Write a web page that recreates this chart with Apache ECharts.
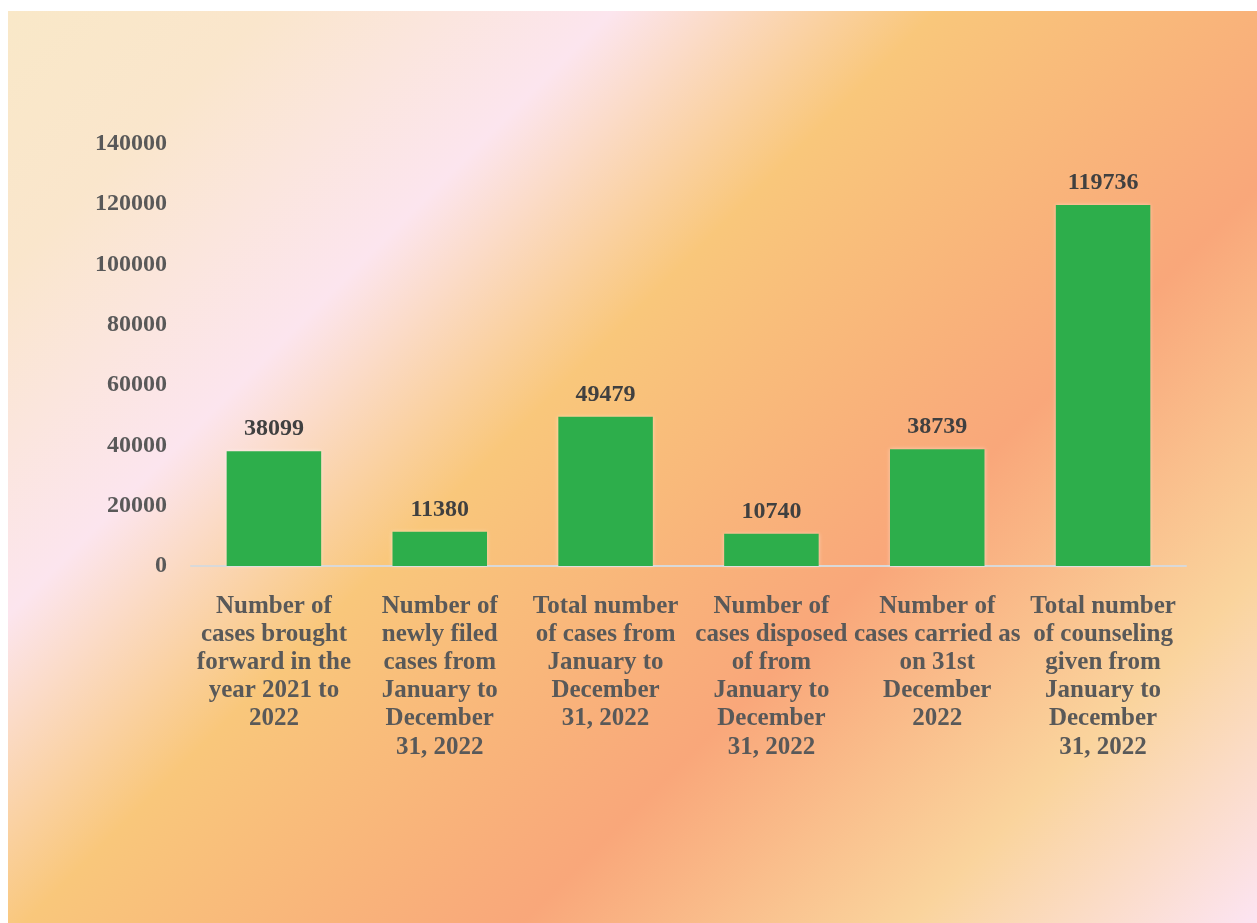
<!DOCTYPE html>
<html>
<head>
<meta charset="utf-8">
<script src="https://cdn.jsdelivr.net/npm/echarts@6/dist/echarts.min.js"></script>
<style>
  html, body { margin: 0; padding: 0; background: #ffffff; }
  #chart { position: absolute; left: 8px; top: 11px; width: 1249px; height: 912px; }
</style>
</head>
<body>
<div id="chart"></div>
<script>
const categories = [
  "Number of\ncases brought\nforward in the\nyear 2021 to\n2022",
  "Number of\nnewly filed\ncases from\nJanuary to\nDecember\n31, 2022",
  "Total number\nof cases from\nJanuary to\nDecember\n31, 2022",
  "Number of\ncases disposed\nof from\nJanuary to\nDecember\n31, 2022",
  "Number of\ncases carried as\non 31st\nDecember\n2022",
  "Total number\nof counseling\ngiven from\nJanuary to\nDecember\n31, 2022"
];
const values = [38099, 11380, 49479, 10740, 38739, 119736];
const yMin = 0;
const yMax = 140000;
const yInterval = 20000;

const chart = echarts.init(document.getElementById('chart'));
const fontFamily = '"Liberation Serif", "Times New Roman", serif';
chart.setOption({
  backgroundColor: new echarts.graphic.LinearGradient(0, 0, 1080, 1080, [
    { offset: 0.00, color: '#F9E8C8' },
    { offset: 0.12, color: '#FAE6CC' },
    { offset: 0.28, color: '#FCE5EE' },
    { offset: 0.43, color: '#F9C77B' },
    { offset: 0.66, color: '#F9A77A' },
    { offset: 0.84, color: '#FAD49D' },
    { offset: 1.00, color: '#FCE4F2' }
  ], true),
  animation: false,
  grid: { left: 183, right: 71, top: 133, bottom: 357, containLabel: false },
  xAxis: {
    type: 'category',
    data: categories,
    axisLine: { show: true, lineStyle: { color: '#D9D9D9', width: 2 } },
    axisTick: { show: false },
    axisLabel: {
      interval: 0,
      margin: 26,
      color: '#595959',
      fontFamily: fontFamily,
      fontWeight: 'bold',
      fontSize: 25,
      lineHeight: 28.2
    }
  },
  yAxis: {
    type: 'value',
    min: yMin,
    max: yMax,
    interval: yInterval,
    axisLine: { show: false },
    axisTick: { show: false },
    splitLine: { show: false },
    axisLabel: {
      margin: 24,
      color: '#595959',
      fontFamily: fontFamily,
      fontWeight: 'bold',
      fontSize: 24,
      formatter: function (v) { return String(v); }
    }
  },
  series: [{
    type: 'bar',
    data: values,
    barWidth: '57%',
    itemStyle: {
      color: '#2DAE4B',
      shadowColor: 'rgba(255,255,255,0.45)',
      shadowBlur: 4
    },
    label: {
      show: true,
      position: 'top',
      distance: 10,
      color: '#404040',
      fontFamily: fontFamily,
      fontWeight: 'bold',
      fontSize: 24
    }
  }]
});
</script>
</body>
</html>
